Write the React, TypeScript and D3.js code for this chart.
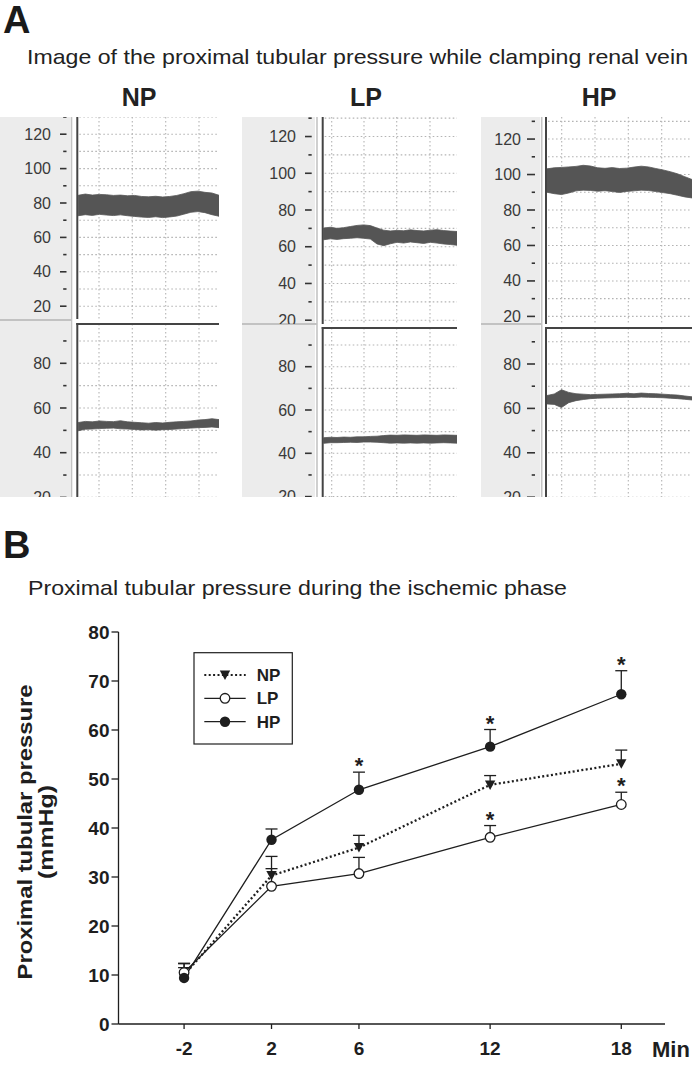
import React, { useEffect } from 'react';
import * as d3 from 'd3';

const W = 692;
const H = 1066;
const FONT = "'Liberation Sans', Arial, Helvetica, sans-serif";

// ---------------- Panel A data (recorder traces) ----------------
const traceNames = ['NP', 'LP', 'HP'];
const traceTime = [0, 5, 10, 15, 20, 25, 30, 35, 40, 45, 50, 55, 60, 65, 70, 75, 80, 85, 90, 95, 100];
const npTopHi = [84.5, 85.2, 84.6, 85.0, 84.8, 84.4, 84.6, 84.2, 84.4, 83.8, 83.6, 83.9, 83.5, 83.8, 84.4, 85.4, 86.6, 86.9, 86.2, 85.8, 84.5];
const npTopLo = [72.6, 73.2, 72.8, 73.4, 73.0, 72.7, 73.1, 72.6, 72.2, 71.8, 71.6, 72.0, 71.5, 71.9, 72.4, 73.5, 74.6, 75.0, 74.4, 73.2, 72.3];
const npBotHi = [53.5, 54.0, 53.8, 54.2, 54.0, 53.9, 54.3, 53.8, 53.6, 53.4, 53.2, 53.5, 53.3, 53.6, 53.8, 54.0, 54.2, 54.6, 54.8, 55.2, 54.8];
const npBotLo = [49.8, 50.5, 50.6, 50.8, 50.9, 51.0, 50.7, 50.6, 50.4, 50.2, 50.3, 50.1, 50.3, 50.4, 50.6, 50.8, 51.0, 51.2, 51.3, 51.5, 51.2];
const lpTopHi = [70.2, 70.6, 70.0, 70.4, 71.0, 71.6, 71.9, 71.5, 70.2, 69.0, 68.6, 68.9, 68.7, 69.2, 68.8, 68.6, 69.0, 69.3, 68.8, 68.5, 68.3];
const lpTopLo = [63.8, 64.3, 64.0, 64.4, 64.6, 64.9, 64.6, 64.2, 61.5, 60.6, 61.6, 62.4, 62.0, 62.6, 62.2, 61.8, 62.4, 62.0, 61.5, 61.2, 60.8];
const lpBotHi = [47.2, 47.4, 47.3, 47.5, 47.4, 47.6, 47.6, 47.8, 47.9, 48.2, 48.4, 48.3, 48.5, 48.4, 48.3, 48.5, 48.4, 48.3, 48.5, 48.4, 48.3];
const lpBotLo = [44.6, 44.9, 44.9, 45.0, 45.1, 45.0, 45.2, 45.2, 45.1, 44.9, 44.7, 44.8, 44.7, 44.8, 44.7, 44.8, 44.7, 44.8, 44.9, 44.8, 44.7];
const hpTopHi = [103.2, 103.8, 104.0, 104.3, 104.6, 105.2, 104.8, 103.8, 103.5, 103.9, 103.4, 103.6, 104.2, 104.7, 104.3, 103.4, 102.6, 101.6, 100.4, 98.8, 97.2];
const hpTopLo = [90.0, 89.2, 88.7, 89.6, 90.8, 91.2, 91.0, 90.6, 90.9, 90.4, 89.9, 90.5, 90.8, 91.2, 91.0, 90.4, 89.8, 89.2, 88.3, 87.4, 86.8];
const hpBotHi = [65.8, 66.5, 68.4, 67.2, 66.6, 66.4, 66.2, 66.3, 66.4, 66.5, 66.6, 66.8, 66.6, 66.9, 66.7, 66.6, 66.4, 66.2, 66.0, 65.6, 65.2];
const hpBotLo = [62.0, 61.8, 60.4, 62.6, 63.5, 64.0, 64.4, 64.6, 64.7, 64.8, 64.9, 65.0, 64.9, 65.1, 65.0, 64.9, 64.8, 64.6, 64.4, 64.1, 63.8];
const topMajorTicks = [120, 100, 80, 60, 40, 20];
const topMinorTicks = [130, 110, 90, 70, 50, 30];
const botMajorTicks = [80, 60, 40, 20];
const botMinorTicks = [90, 70, 50, 30];
const gridLevels = [130, 120, 110, 100, 90, 80, 70, 60, 50, 40, 30, 20];

const traceBands = [
  { top: [npTopHi, npTopLo], bot: [npBotHi, npBotLo] },
  { top: [lpTopHi, lpTopLo], bot: [lpBotHi, lpBotLo] },
  { top: [hpTopHi, hpTopLo], bot: [hpBotHi, hpBotLo] },
];

// layout of the three screenshot panels (positions only)
const panelLayout = [
  { headerX: 139, bgX0: 0, bgX1: 70, lightX: 71.5, darkX: 77.3, plotX1: 219, tickX0: 60, tickX1: 66.5, labelX: 51,
    topY80: 203, topY20: 306.2, topY1: 319, sepY: 324, botY80: 363.3, botY40: 452.7, grid: [99, 132.3, 165.7, 199] },
  { headerX: 366, bgX0: 242, bgX1: 315, lightX: 317, darkX: 322.7, plotX1: 457, tickX0: 305, tickX1: 311.7, labelX: 296,
    topY80: 210, topY20: 320.2, topY1: 324, sepY: 328, botY80: 366.7, botY40: 453.3, grid: [331.7, 364, 396.7, 430] },
  { headerX: 599, bgX0: 481, bgX1: 540, lightX: 541.7, darkX: 546, plotX1: 692, tickX0: 527, tickX1: 535, labelX: 521,
    topY80: 210, topY20: 316.4, topY1: 324, sepY: 328, botY80: 364, botY40: 452.8, grid: [561.7, 595, 628.3, 661.7] },
];
const PANEL_TOP = 117;
const PANEL_BOTTOM = 497;

// ---------------- Panel B data ----------------
const minutes = [-2, 2, 6, 12, 18];
const xTicks = [-2, 2, 6, 12, 18];
const yTicks = [0, 10, 20, 30, 40, 50, 60, 70, 80];
const npMean = [10.0, 30.3, 36.0, 48.8, 53.1];
const npSem = [2.3, 3.9, 2.5, 1.9, 2.8];
const lpMean = [10.5, 28.1, 30.7, 38.1, 44.8];
const lpSem = [1.9, 3.6, 3.3, 2.4, 2.5];
const hpMean = [9.4, 37.6, 47.8, 56.6, 67.3];
const hpSem = [2.1, 2.2, 3.6, 3.5, 4.8];
const npStar = [false, false, false, false, false];
const lpStar = [false, false, false, true, true];
const hpStar = [false, false, true, true, true];
const seriesNames = ['NP', 'LP', 'HP'];

const INK = '#1e1e1e';

function ScreenPanel({ idx }: { idx: number }) {
  const L = panelLayout[idx];
  const bands = traceBands[idx];
  const yTop = d3.scaleLinear().domain([80, 20]).range([L.topY80, L.topY20]);
  const yBot = d3.scaleLinear().domain([80, 40]).range([L.botY80, L.botY40]);
  const xT = d3.scaleLinear().domain([0, 100]).range([L.darkX + 1, L.plotX1]);
  const areaTop = d3.area<number>()
    .x((_, i) => xT(traceTime[i]))
    .y0((_, i) => yTop(bands.top[1][i]))
    .y1((_, i) => yTop(bands.top[0][i]));
  const areaBot = d3.area<number>()
    .x((_, i) => xT(traceTime[i]))
    .y0((_, i) => yBot(bands.bot[1][i]))
    .y1((_, i) => yBot(bands.bot[0][i]));
  const clipTop = `clipTop${idx}`;
  const clipBot = `clipBot${idx}`;
  const gridStyle = { stroke: '#b4b4b4', strokeWidth: 1.1, strokeDasharray: '1.6 2.4' };
  return (
    <g>
      <defs>
        <clipPath id={clipTop}>
          <rect x={L.bgX0} y={PANEL_TOP} width={L.plotX1 - L.bgX0} height={L.topY1 - PANEL_TOP} />
        </clipPath>
        <clipPath id={clipBot}>
          <rect x={L.bgX0} y={L.sepY} width={L.plotX1 - L.bgX0} height={PANEL_BOTTOM - L.sepY} />
        </clipPath>
      </defs>
      <text x={L.headerX} y={106} textAnchor="middle" fontFamily={FONT} fontWeight="bold" fontSize={25} fill="#222">
        {traceNames[idx]}
      </text>
      {/* gray label column */}
      <rect x={L.bgX0} y={PANEL_TOP} width={L.bgX1 - L.bgX0} height={PANEL_BOTTOM - PANEL_TOP} fill="#ececec" />
      <line x1={L.lightX} x2={L.lightX} y1={PANEL_TOP} y2={PANEL_BOTTOM} stroke="#c4c4c4" strokeWidth={1.6} />
      <line x1={L.bgX0} x2={L.bgX1 + 2} y1={L.sepY - 4} y2={L.sepY - 4} stroke="#c2c2c2" strokeWidth={2} />
      {/* top plot */}
      <g clipPath={`url(#${clipTop})`}>
        {gridLevels.map((v) => (
          <line key={'gt' + v} x1={L.darkX + 2} x2={L.plotX1} y1={yTop(v)} y2={yTop(v)} style={gridStyle} />
        ))}
        {L.grid.map((gx) => (
          <line key={'gv' + gx} x1={gx} x2={gx} y1={PANEL_TOP} y2={L.topY1} style={gridStyle} />
        ))}
        <path d={areaTop(traceTime) || ''} fill="#555" stroke="#555" strokeWidth={0.8} />
        {topMajorTicks.map((v) => (
          <g key={'tm' + v}>
            <line x1={L.tickX0} x2={L.tickX1} y1={yTop(v)} y2={yTop(v)} stroke="#333" strokeWidth={1.6} />
            <text x={L.labelX} y={yTop(v) + 5.5} textAnchor="end" fontFamily={FONT} fontSize={16} fill="#3a3a3a">{v}</text>
          </g>
        ))}
        {topMinorTicks.map((v) => (
          <line key={'tn' + v} x1={L.tickX1 - 3.3} x2={L.tickX1} y1={yTop(v)} y2={yTop(v)} stroke="#333" strokeWidth={1.6} />
        ))}
      </g>
      <line x1={L.darkX} x2={L.darkX} y1={PANEL_TOP} y2={L.topY1} stroke="#444" strokeWidth={2} />
      {/* bottom plot */}
      <g clipPath={`url(#${clipBot})`}>
        {gridLevels.map((v) => (
          <line key={'gb' + v} x1={L.darkX + 2} x2={L.plotX1} y1={yBot(v)} y2={yBot(v)} style={gridStyle} />
        ))}
        {L.grid.map((gx) => (
          <line key={'gbv' + gx} x1={gx} x2={gx} y1={L.sepY} y2={PANEL_BOTTOM} style={gridStyle} />
        ))}
        <path d={areaBot(traceTime) || ''} fill="#555" stroke="#555" strokeWidth={0.8} />
        {botMajorTicks.map((v) => (
          <g key={'bm' + v}>
            <line x1={L.tickX0} x2={L.tickX1} y1={yBot(v)} y2={yBot(v)} stroke="#333" strokeWidth={1.6} />
            <text x={L.labelX} y={yBot(v) + 5.5} textAnchor="end" fontFamily={FONT} fontSize={16} fill="#3a3a3a">{v}</text>
          </g>
        ))}
        {botMinorTicks.map((v) => (
          <line key={'bn' + v} x1={L.tickX1 - 3.3} x2={L.tickX1} y1={yBot(v)} y2={yBot(v)} stroke="#333" strokeWidth={1.6} />
        ))}
      </g>
      <line x1={L.darkX} x2={L.darkX} y1={L.sepY - 1} y2={PANEL_BOTTOM} stroke="#444" strokeWidth={2} />
      <line x1={L.darkX - 1} x2={L.plotX1} y1={L.sepY} y2={L.sepY} stroke="#444" strokeWidth={2} />
    </g>
  );
}

function PanelB() {
  const x = d3.scaleLinear().domain([-5, 20]).range([118.5, 665]);
  const y = d3.scaleLinear().domain([0, 80]).range([1024, 632]);
  const series = [
    { mean: npMean, sem: npSem, star: npStar },
    { mean: lpMean, sem: lpSem, star: lpStar },
    { mean: hpMean, sem: hpSem, star: hpStar },
  ];
  const lineFor = (m: number[]) => d3.line<number>().x((_, i) => x(minutes[i])).y((d) => y(d))(m) || '';
  const tri = (cx: number, cy: number) => `M${cx - 5.2},${cy - 4.5}L${cx + 5.2},${cy - 4.5}L${cx},${cy + 5}Z`;
  const marker = (s: number, cx: number, cy: number, key: string) => {
    if (s === 0) return <path key={key} d={tri(cx, cy)} fill={INK} />;
    if (s === 1) return <circle key={key} cx={cx} cy={cy} r={4.8} fill="#fff" stroke={INK} strokeWidth={1.3} />;
    return <circle key={key} cx={cx} cy={cy} r={5.2} fill={INK} />;
  };
  const legendRows = [675, 698.3, 721.7];
  return (
    <g>
      {/* axes */}
      <line x1={x(-5)} x2={x(-5)} y1={y(80)} y2={y(0)} stroke={INK} strokeWidth={1.3} />
      <line x1={x(-5)} x2={x(20)} y1={y(0)} y2={y(0)} stroke={INK} strokeWidth={1.3} />
      {yTicks.map((v) => (
        <g key={'yt' + v}>
          <line x1={x(-5) - 7} x2={x(-5)} y1={y(v)} y2={y(v)} stroke={INK} strokeWidth={1.3} />
          <text x={x(-5) - 9} y={y(v) + 7} textAnchor="end" fontFamily={FONT} fontWeight="bold" fontSize={19} fill={INK}>{v}</text>
        </g>
      ))}
      {xTicks.map((v) => (
        <g key={'xt' + v}>
          <line x1={x(v)} x2={x(v)} y1={y(0)} y2={y(0) + 5} stroke={INK} strokeWidth={1.3} />
          <text x={x(v)} y={1055} textAnchor="middle" fontFamily={FONT} fontWeight="bold" fontSize={19} fill={INK}>{v}</text>
        </g>
      ))}
      <text x={652} y={1057} fontFamily={FONT} fontWeight="bold" fontSize={22} fill={INK}>Min</text>
      <g transform="translate(32,832) rotate(-90)">
        <text x={0} y={0} textAnchor="middle" fontFamily={FONT} fontWeight="bold" fontSize={20} fill={INK} textLength={295} lengthAdjust="spacingAndGlyphs">Proximal tubular pressure</text>
      </g>
      <g transform="translate(53,832) rotate(-90)">
        <text x={0} y={0} textAnchor="middle" fontFamily={FONT} fontWeight="bold" fontSize={20} fill={INK} textLength={94} lengthAdjust="spacingAndGlyphs">(mmHg)</text>
      </g>
      {/* series lines */}
      <path d={lineFor(hpMean)} fill="none" stroke={INK} strokeWidth={1.3} />
      <path d={lineFor(lpMean)} fill="none" stroke={INK} strokeWidth={1.3} />
      <path d={lineFor(npMean)} fill="none" stroke={INK} strokeWidth={2.3} strokeDasharray="2 2.4" />
      {/* error bars and stars */}
      {series.map((s, si) => s.mean.map((m, i) => {
        const cx = x(minutes[i]);
        const top = y(m + s.sem[i]);
        return (
          <g key={`e${si}-${i}`}>
            <line x1={cx} x2={cx} y1={y(m)} y2={top} stroke={INK} strokeWidth={1.3} />
            <line x1={cx - 6} x2={cx + 6} y1={top} y2={top} stroke={INK} strokeWidth={1.3} />
            {s.star[i] && (
              <text x={cx} y={top + 1} textAnchor="middle" fontFamily={FONT} fontWeight="bold" fontSize={22} fill={INK}>*</text>
            )}
          </g>
        );
      }))}
      {/* markers */}
      {series.map((s, si) => s.mean.map((m, i) => marker(si, x(minutes[i]), y(m), `m${si}-${i}`)))}
      {/* legend */}
      <rect x={194} y={652.7} width={98.3} height={91.3} fill="#fff" stroke={INK} strokeWidth={1.2} />
      {seriesNames.map((n, i) => (
        <g key={'lg' + n}>
          <line x1={204.3} x2={245.7} y1={legendRows[i]} y2={legendRows[i]} stroke={INK}
            strokeWidth={i === 0 ? 2.2 : 1.3} strokeDasharray={i === 0 ? '2 2.4' : undefined} />
          {marker(i, 225, legendRows[i], 'lm' + i)}
          <text x={256.7} y={legendRows[i] + 6} fontFamily={FONT} fontWeight="bold" fontSize={17} fill={INK}>{n}</text>
        </g>
      ))}
    </g>
  );
}

export default function App() {
  useEffect(() => {
    document.body.style.margin = '0';
  }, []);
  return (
    <svg width={W} height={H} viewBox={`0 0 ${W} ${H}`} style={{ display: 'block', background: '#fff' }}>
      <rect x={0} y={0} width={W} height={H} fill="#fff" />
      <text x={3} y={33} fontFamily={FONT} fontWeight="bold" fontSize={38} fill="#1a1a1a">A</text>
      <text x={27} y={64} fontFamily={FONT} fontSize={21} fill="#222" textLength={661} lengthAdjust="spacingAndGlyphs">
        Image of the proximal tubular pressure while clamping renal vein
      </text>
      {[0, 1, 2].map((i) => <ScreenPanel key={i} idx={i} />)}
      <text x={3} y={558} fontFamily={FONT} fontWeight="bold" fontSize={38} fill="#1a1a1a">B</text>
      <text x={28} y={595} fontFamily={FONT} fontSize={21} fill="#222" textLength={539} lengthAdjust="spacingAndGlyphs">
        Proximal tubular pressure during the ischemic phase
      </text>
      <PanelB />
    </svg>
  );
}
